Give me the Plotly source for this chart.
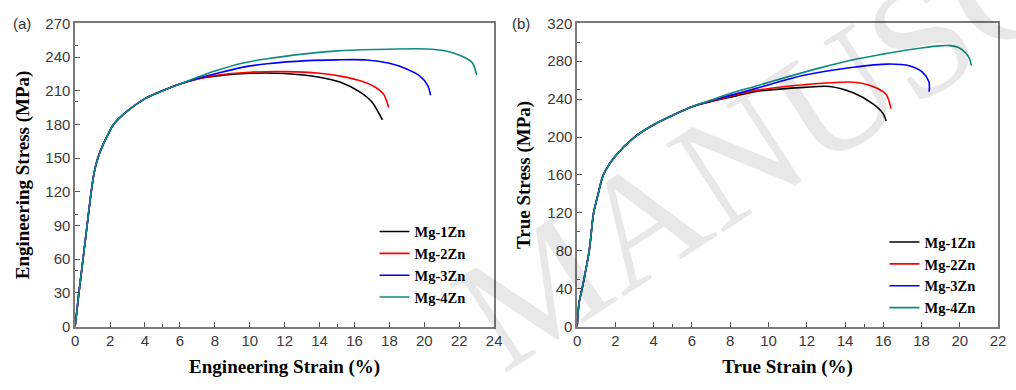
import plotly.graph_objects as go

# ---------------- data ----------------
names = ["Mg-1Zn", "Mg-2Zn", "Mg-3Zn", "Mg-4Zn"]
colors = ["#000000", "#ff0000", "#0000ff", "#0f8a82"]

# (a) engineering stress-strain
eng_common_strain = [0, 0.2, 0.45, 0.7, 0.92, 1.1, 1.3, 1.6, 2.2, 3.0, 4.0, 5.0, 6.0]
eng_common_stress = [0, 28, 60, 92, 120, 138, 150, 162, 180, 192, 203, 210, 216]

eng_strain_1 = [7.0, 8.0, 10.0, 12.0, 14.0, 15.2, 16.3, 17.0, 17.6]
eng_stress_1 = [220.5, 223, 225.5, 225.3, 222, 217.5, 209, 200, 184]
eng_strain_2 = [7.0, 8.0, 10.0, 12.0, 14.0, 15.2, 16.5, 17.1, 17.66, 17.96]
eng_stress_2 = [220.5, 223.5, 226.5, 227, 225.5, 223, 218, 214, 207, 195]
eng_strain_3 = [7.0, 8.0, 9.56, 11.0, 13.3, 15.0, 16.7, 18.0, 18.6, 19.75, 20.2, 20.36]
eng_stress_3 = [221, 225, 230.8, 234, 236.8, 237.5, 237.4, 234.5, 231.7, 223, 214.6, 206]
eng_strain_4 = [7.0, 8.0, 9.56, 11.0, 13.3, 15.0, 17.1, 20.1, 21.0, 21.8, 22.5, 22.77, 23.0]
eng_stress_4 = [222, 227.5, 234.5, 238.5, 243, 245.5, 246.7, 247.2, 246, 243, 238, 234.5, 224]

# (b) true stress-strain
true_common_strain = [0, 0.1, 0.26, 0.63, 0.86, 1.1, 1.37, 2.0, 3.0, 4.0, 5.0, 6.0]
true_common_stress = [0, 25, 40, 80, 120, 140, 160, 180, 200, 213, 223, 232]

true_strain_1 = [7.0, 8.0, 9.28, 11.86, 13.2, 14.43, 15.46, 15.98, 16.15]
true_stress_1 = [237.5, 242, 247.8, 252.4, 253.4, 246.7, 235, 225, 217]
true_strain_2 = [7.0, 8.0, 9.28, 11.86, 14.43, 15.46, 16.15, 16.4]
true_stress_2 = [238, 243, 249, 255.2, 257.9, 253.4, 245, 230]
true_strain_3 = [7.0, 8.0, 9.28, 11.86, 14.43, 16.2, 17.35, 18.04, 18.38, 18.4]
true_stress_3 = [238.5, 244, 251, 265.2, 273.6, 277, 275.3, 268.6, 258.5, 247.8]
true_strain_4 = [7.0, 8.0, 9.28, 11.0, 12.7, 14.43, 16.0, 17.0, 18.0, 18.9, 19.5, 19.93, 20.3, 20.5, 20.6]
true_stress_4 = [239, 246, 253.4, 263.5, 273, 281.5, 287.5, 291, 294, 296.2, 296.5, 294.5, 289, 283, 275.3]

eng_x_ticks = list(range(0, 25, 2))
eng_y_ticks = list(range(0, 271, 30))
true_x_ticks = list(range(0, 23, 2))
true_y_ticks = list(range(0, 321, 40))

eng_series = [(eng_strain_1, eng_stress_1), (eng_strain_2, eng_stress_2),
              (eng_strain_3, eng_stress_3), (eng_strain_4, eng_stress_4)]
true_series = [(true_strain_1, true_stress_1), (true_strain_2, true_stress_2),
               (true_strain_3, true_stress_3), (true_strain_4, true_stress_4)]

fig = go.Figure()

for i, (xs, ys) in enumerate(eng_series):
    fig.add_trace(go.Scatter(
        x=eng_common_strain + xs, y=eng_common_stress + ys, name=names[i],
        mode="lines", line=dict(color=colors[i], width=1.6, shape="spline", smoothing=0.8),
        xaxis="x", yaxis="y", legend="legend"))

for i, (xs, ys) in enumerate(true_series):
    fig.add_trace(go.Scatter(
        x=true_common_strain + xs, y=true_common_stress + ys, name=names[i],
        mode="lines", line=dict(color=colors[i], width=1.6, shape="spline", smoothing=0.8),
        xaxis="x2", yaxis="y2", legend="legend2"))

W, H = 1016, 390
tickfont = dict(family="Liberation Sans, Arial", size=15, color="#3a3a3a")
titlefont = dict(family="Liberation Serif, Times New Roman", size=19, color="#000000")
legfont = dict(family="Liberation Serif, Times New Roman", size=14.5, color="#000000", weight="bold")

def axis(domain, rng, ticks, title, anchor, standoff):
    return dict(
        domain=domain, range=rng, tickvals=ticks, anchor=anchor,
        showgrid=False, zeroline=False, showline=True, mirror=True,
        linecolor="#7a7a7a", linewidth=1.5,
        ticks="inside", ticklen=5, tickwidth=1.2, tickcolor="#555555",
        minor=dict(ticks="inside", ticklen=3, tickwidth=1, tickcolor="#555555", nticks=2),
        tickfont=tickfont,
        title=dict(text=title, font=titlefont, standoff=standoff),
    )

ydom = [1 - 332 / H, 1 - 15 / H]
fig.update_layout(
    width=W, height=H, margin=dict(l=0, r=0, t=0, b=0),
    paper_bgcolor="white", plot_bgcolor="rgba(0,0,0,0)",
    xaxis=axis([72 / W, 496 / W], [0, 24], eng_x_ticks, "<b>Engineering Strain (%)</b>", "y", 11),
    yaxis=axis(ydom, [0, 270], eng_y_ticks, "<b>Engineering Stress (MPa)</b>", "x", 11),
    xaxis2=axis([580 / W, 1006 / W], [0, 22], true_x_ticks, "<b>True Strain (%)</b>", "y2", 11),
    yaxis2=axis(ydom, [0, 320], true_y_ticks, "<b>True Stress (MPa)</b>", "x2", 12),
    legend=dict(x=375 / W, y=1 - 216 / H, xanchor="left", yanchor="top",
                bgcolor="rgba(0,0,0,0)", font=legfont, tracegroupgap=0),
    legend2=dict(x=891 / W, y=1 - 227 / H, xanchor="left", yanchor="top",
                 bgcolor="rgba(0,0,0,0)", font=legfont, tracegroupgap=0),
    showlegend=True,
)

# panel labels
labelfont = dict(family="Liberation Sans, Arial", size=15, color="#333333")
fig.add_annotation(text="(a)", x=7 / W, y=1 - 15 / H, xref="paper", yref="paper",
                   xanchor="left", yanchor="middle", showarrow=False, font=labelfont)
fig.add_annotation(text="(b)", x=512 / W, y=1 - 15 / H, xref="paper", yref="paper",
                   xanchor="left", yanchor="middle", showarrow=False, font=labelfont)

# faint watermark (only the part visible in the reference)
fig.add_annotation(text="MANUSC", x=766 / W, y=1 - 140 / H, xref="paper", yref="paper",
                   xanchor="center", yanchor="middle", showarrow=False, textangle=-33,
                   font=dict(family="Liberation Serif, Times New Roman", size=160,
                             color="rgba(0,0,0,0.09)"))

fig.write_html("out.html")
